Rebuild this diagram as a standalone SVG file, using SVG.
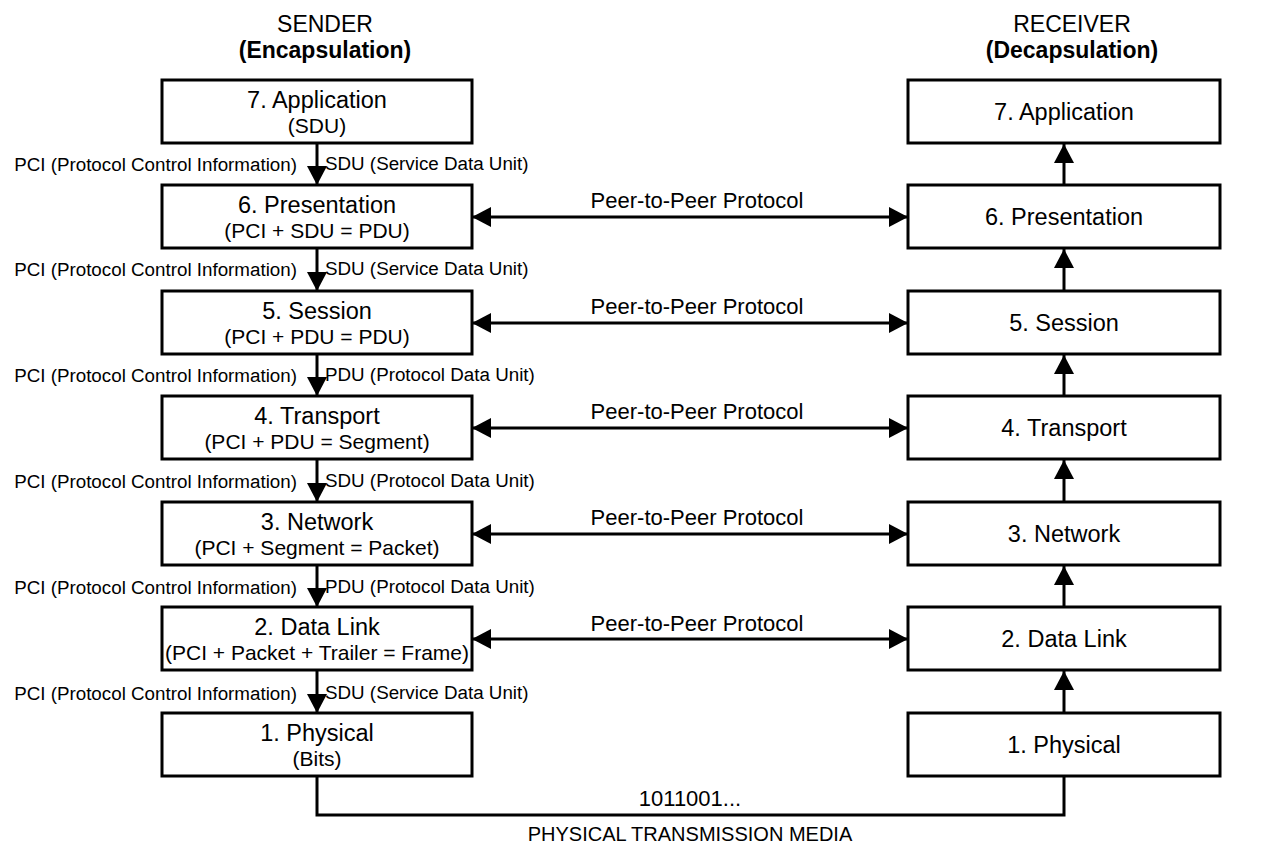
<svg xmlns="http://www.w3.org/2000/svg" width="1264" height="848" viewBox="0 0 1264 848">
<style>
text{font-family:"Liberation Sans",Arial,Helvetica,sans-serif;fill:#000}
.box{fill:#fff;stroke:#000;stroke-width:3}
.t{font-size:23.5px;text-anchor:middle}
.s{font-size:21px;text-anchor:middle}
.h{font-size:23px;text-anchor:middle}
.hb{font-size:23px;font-weight:bold;text-anchor:middle}
.l{font-size:18.8px;text-anchor:end}
.r{font-size:18.8px;text-anchor:start}
.p{font-size:22px;text-anchor:middle}
.ln{fill:none;stroke:#000;stroke-width:3}
.ar{marker-end:url(#ah)}
.bi{marker-end:url(#ah);marker-start:url(#ah)}
</style>
<defs>
<marker id="ah" markerUnits="userSpaceOnUse" markerWidth="20" markerHeight="20" viewBox="0 0 19 20" refX="19" refY="10" orient="auto-start-reverse">
<path d="M0,0 L19,10 L0,20 z" fill="#000"/>
</marker>
</defs>
<rect width="1264" height="848" fill="#fff"/>
<g id="headers">
<text class="h" x="325" y="32">SENDER</text>
<text class="hb" x="325" y="58">(Encapsulation)</text>
<text class="h" x="1072" y="32">RECEIVER</text>
<text class="hb" x="1072" y="58">(Decapsulation)</text>
</g>
<g id="connectors">
<line class="ln ar" x1="317" y1="144" x2="317" y2="185"/>
<line class="ln ar" x1="317" y1="249" x2="317" y2="291"/>
<line class="ln ar" x1="317" y1="355" x2="317" y2="396"/>
<line class="ln ar" x1="317" y1="460" x2="317" y2="502"/>
<line class="ln ar" x1="317" y1="566" x2="317" y2="607"/>
<line class="ln ar" x1="317" y1="671" x2="317" y2="713"/>
<line class="ln ar" x1="1064" y1="185" x2="1064" y2="144"/>
<line class="ln ar" x1="1064" y1="291" x2="1064" y2="249"/>
<line class="ln ar" x1="1064" y1="396" x2="1064" y2="355"/>
<line class="ln ar" x1="1064" y1="502" x2="1064" y2="460"/>
<line class="ln ar" x1="1064" y1="607" x2="1064" y2="566"/>
<line class="ln ar" x1="1064" y1="713" x2="1064" y2="671"/>
<line class="ln bi" x1="472" y1="217" x2="908" y2="217"/>
<line class="ln bi" x1="472" y1="323" x2="908" y2="323"/>
<line class="ln bi" x1="472" y1="428" x2="908" y2="428"/>
<line class="ln bi" x1="472" y1="534" x2="908" y2="534"/>
<line class="ln bi" x1="472" y1="639" x2="908" y2="639"/>
<path class="ln" d="M317,777 V815 H1064 V777"/>
<text class="p" x="697" y="208">Peer-to-Peer Protocol</text>
<text class="p" x="697" y="314">Peer-to-Peer Protocol</text>
<text class="p" x="697" y="419">Peer-to-Peer Protocol</text>
<text class="p" x="697" y="525">Peer-to-Peer Protocol</text>
<text class="p" x="697" y="631">Peer-to-Peer Protocol</text>
<text class="l" x="297" y="171">PCI (Protocol Control Information)</text>
<text class="r" x="325" y="170">SDU (Service Data Unit)</text>
<text class="l" x="297" y="276">PCI (Protocol Control Information)</text>
<text class="r" x="325" y="275">SDU (Service Data Unit)</text>
<text class="l" x="297" y="382">PCI (Protocol Control Information)</text>
<text class="r" x="325" y="381">PDU (Protocol Data Unit)</text>
<text class="l" x="297" y="488">PCI (Protocol Control Information)</text>
<text class="r" x="325" y="487">SDU (Protocol Data Unit)</text>
<text class="l" x="297" y="594">PCI (Protocol Control Information)</text>
<text class="r" x="325" y="593">PDU (Protocol Data Unit)</text>
<text class="l" x="297" y="700">PCI (Protocol Control Information)</text>
<text class="r" x="325" y="699">SDU (Service Data Unit)</text>
<text class="p" x="690" y="806">1011001...</text>
<text class="s" x="690" y="841" style="font-size:20px">PHYSICAL TRANSMISSION MEDIA</text>
</g>
<g id="s7"><rect class="box" x="162" y="80" width="310" height="63"/><text class="t" x="317" y="108">7. Application</text><text class="s" x="317" y="133">(SDU)</text></g>
<g id="s6"><rect class="box" x="162" y="185" width="310" height="63"/><text class="t" x="317" y="213">6. Presentation</text><text class="s" x="317" y="238">(PCI + SDU = PDU)</text></g>
<g id="s5"><rect class="box" x="162" y="291" width="310" height="63"/><text class="t" x="317" y="319">5. Session</text><text class="s" x="317" y="344">(PCI + PDU = PDU)</text></g>
<g id="s4"><rect class="box" x="162" y="396" width="310" height="63"/><text class="t" x="317" y="424">4. Transport</text><text class="s" x="317" y="449">(PCI + PDU = Segment)</text></g>
<g id="s3"><rect class="box" x="162" y="502" width="310" height="63"/><text class="t" x="317" y="530">3. Network</text><text class="s" x="317" y="555">(PCI + Segment = Packet)</text></g>
<g id="s2"><rect class="box" x="162" y="607" width="310" height="63"/><text class="t" x="317" y="635">2. Data Link</text><text class="s" x="317" y="660">(PCI + Packet + Trailer = Frame)</text></g>
<g id="s1"><rect class="box" x="162" y="713" width="310" height="63"/><text class="t" x="317" y="741">1. Physical</text><text class="s" x="317" y="766">(Bits)</text></g>
<g id="r7"><rect class="box" x="908" y="80" width="312" height="63"/><text class="t" x="1064" y="120">7. Application</text></g>
<g id="r6"><rect class="box" x="908" y="185" width="312" height="63"/><text class="t" x="1064" y="225">6. Presentation</text></g>
<g id="r5"><rect class="box" x="908" y="291" width="312" height="63"/><text class="t" x="1064" y="331">5. Session</text></g>
<g id="r4"><rect class="box" x="908" y="396" width="312" height="63"/><text class="t" x="1064" y="436">4. Transport</text></g>
<g id="r3"><rect class="box" x="908" y="502" width="312" height="63"/><text class="t" x="1064" y="542">3. Network</text></g>
<g id="r2"><rect class="box" x="908" y="607" width="312" height="63"/><text class="t" x="1064" y="647">2. Data Link</text></g>
<g id="r1"><rect class="box" x="908" y="713" width="312" height="63"/><text class="t" x="1064" y="753">1. Physical</text></g>
</svg>
